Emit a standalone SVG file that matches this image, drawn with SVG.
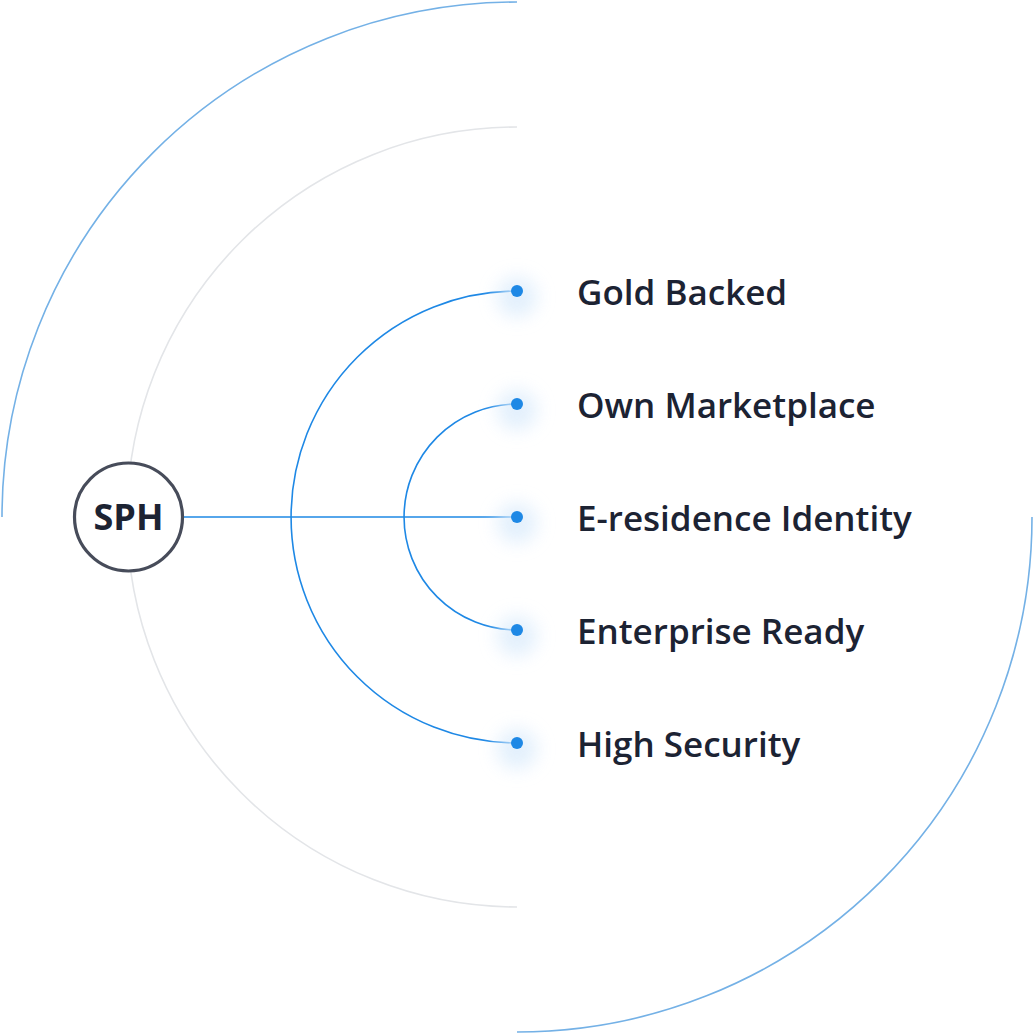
<svg xmlns="http://www.w3.org/2000/svg" width="1035" height="1035" viewBox="0 0 1035 1035">
  <defs>
    <filter id="glow" x="-100%" y="-100%" width="300%" height="300%">
      <feGaussianBlur stdDeviation="9"/>
    </filter>
    <style>
      .outer { fill: none; stroke: #74b1e6; stroke-width: 1.6; }
      .gray { fill: none; stroke: #e3e5e8; stroke-width: 1.6; }
      .conn { fill: none; stroke: #1e88e5; stroke-width: 1.6; }
      .dot { fill: #1e88e5; }
      .halo { fill: #dcecfc; opacity: 0.8; }
      .label { font-family: "Open Sans", "Noto Sans", sans-serif; font-weight: 600; font-size: 35px; fill: #1c2333; }
      .hub { fill: #ffffff; stroke: #474c5a; stroke-width: 3.2; }
      .hubtext { font-family: "Open Sans", "Noto Sans", sans-serif; font-weight: 700; font-size: 36px; fill: #1c2333; }
    </style>
  </defs>
  <rect width="1035" height="1035" fill="#ffffff"/>
  <g id="rings">
    <path class="outer" d="M 517 2 A 515 515 0 0 0 2 517"/>
    <path class="outer" d="M 1032 517 A 515 515 0 0 1 517 1032"/>
    <path class="gray" d="M 517 127 A 390 390 0 0 0 517 907"/>
  </g>
  <g id="connectors">
    <path class="conn" d="M 517 291 A 226 226 0 0 0 517 743"/>
    <path class="conn" d="M 517 404 A 113 113 0 0 0 517 630"/>
    <line class="conn" x1="184" y1="517" x2="517" y2="517"/>
  </g>
  <g id="sph">
    <circle class="hub" cx="128.5" cy="517" r="54"/>
    <text class="hubtext" x="128.5" y="530" text-anchor="middle">SPH</text>
  </g>
  <g id="gold-backed">
    <circle class="halo" cx="517" cy="297" r="20" filter="url(#glow)"/>
    <circle class="dot" cx="517" cy="291" r="6"/>
    <text class="label" x="577" y="305">Gold Backed</text>
  </g>
  <g id="own-marketplace">
    <circle class="halo" cx="517" cy="410" r="20" filter="url(#glow)"/>
    <circle class="dot" cx="517" cy="404" r="6"/>
    <text class="label" x="577" y="418">Own Marketplace</text>
  </g>
  <g id="e-residence-identity">
    <circle class="halo" cx="517" cy="523" r="20" filter="url(#glow)"/>
    <circle class="dot" cx="517" cy="517" r="6"/>
    <text class="label" x="577" y="531">E-residence Identity</text>
  </g>
  <g id="enterprise-ready">
    <circle class="halo" cx="517" cy="636" r="20" filter="url(#glow)"/>
    <circle class="dot" cx="517" cy="630" r="6"/>
    <text class="label" x="577" y="644">Enterprise Ready</text>
  </g>
  <g id="high-security">
    <circle class="halo" cx="517" cy="749" r="20" filter="url(#glow)"/>
    <circle class="dot" cx="517" cy="743" r="6"/>
    <text class="label" x="577" y="757">High Security</text>
  </g>
</svg>
